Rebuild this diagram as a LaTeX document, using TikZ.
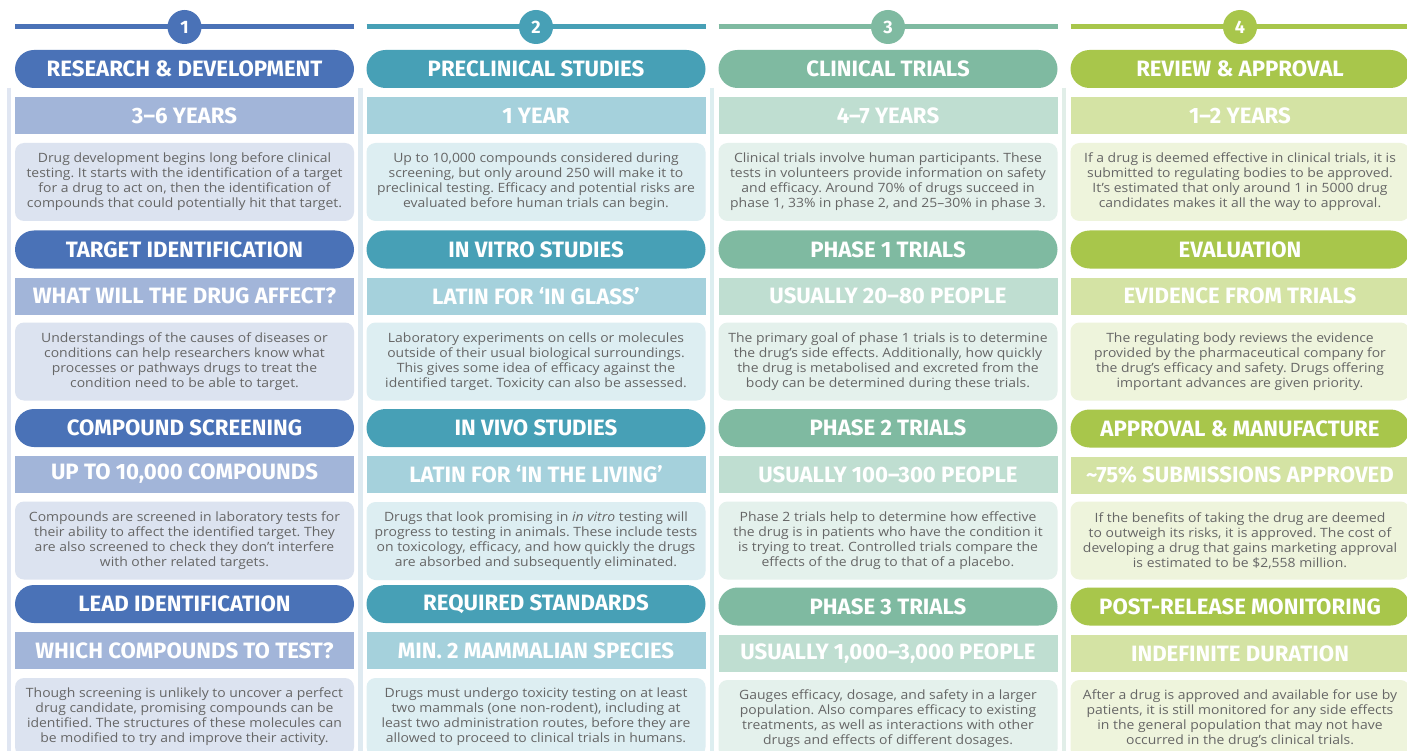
\documentclass[tikz,border=0pt]{standalone}
\usepackage{fontspec}
\setmainfont{Open Sans}[FakeStretch=1.09]
\newfontfamily\headfont{Fira Sans}
\frenchspacing
\definecolor{c1d}{HTML}{4A72B7}
\definecolor{c1s}{HTML}{A2B5D9}
\definecolor{c1b}{HTML}{DCE3F0}
\definecolor{c2d}{HTML}{47A0B6}
\definecolor{c2s}{HTML}{A5D1DC}
\definecolor{c2b}{HTML}{DDEEF2}
\definecolor{c3d}{HTML}{7FBAA1}
\definecolor{c3s}{HTML}{BFDED1}
\definecolor{c3b}{HTML}{E4F1EC}
\definecolor{c4d}{HTML}{A8C64B}
\definecolor{c4s}{HTML}{D4E3A4}
\definecolor{c4b}{HTML}{EEF4DC}
\definecolor{sep1}{HTML}{E0E6F2}
\definecolor{sep2}{HTML}{DFEAF1}
\definecolor{sep3}{HTML}{DDEEF0}
\definecolor{sep4}{HTML}{E1EEE8}
\definecolor{bodygray}{HTML}{666666}
\tikzset{
  headtext/.style={font=\headfont\bfseries\fontsize{22.2}{24}\selectfont, text=white},
  pillbox/.style={headtext, rounded corners=19pt, minimum width=339pt, minimum height=38pt, inner sep=0pt},
  subbox/.style={headtext, minimum width=339pt, minimum height=37pt, inner sep=0pt},
  descbox/.style={rounded corners=9pt, minimum width=339pt, minimum height=78pt, inner sep=0pt, align=center, font=\frenchspacing\fontsize{12.8}{15}\selectfont, text=bodygray},
  numcircle/.style={circle, minimum size=34pt, inner sep=0pt, font=\headfont\bfseries\fontsize{18}{20}\selectfont, text=white},
  topline/.style={line width=5pt},
  sepline/.style={line width=4.5pt}
}
% #1 prefix, #2 x, #3 colour key, #4 pill y, #5 sub y, #6 desc y, #7 pill, #8 sub, #9 desc
\newcommand\stagerow[9]{%
  \node[pillbox, fill=#3d] (#1p) at (#2,#4) {#7};
  \node[subbox, fill=#3s] (#1s) at (#2,#5) {#8};
  \node[descbox, fill=#3b] (#1t) at (#2,#6) {#9};
}
\newcommand\stagehead[3]{% #1 number, #2 x, #3 colour key
  \coordinate (L#1) at (#2-169.5,27);
  \coordinate (R#1) at (#2+169.5,27);
  \draw[topline, #3d] (L#1) -- (R#1);
  \node[numcircle, fill=#3d] (n#1) at (#2,27) {#1};
}
\begin{document}
\begin{tikzpicture}[x=1pt,y=-1pt]
\useasboundingbox (0,0) rectangle (1407,751);
\clip (0,0) rectangle (1407,751);
\fill[white] (0,0) rectangle (1407,751);
% separator lines
\coordinate (s1a) at (9,88);   \coordinate (s1b) at (9,760);
\coordinate (s2a) at (360.5,88); \coordinate (s2b) at (360.5,760);
\coordinate (s3a) at (712,88); \coordinate (s3b) at (712,760);
\coordinate (s4a) at (1064,88); \coordinate (s4b) at (1064,760);
\draw[sepline, sep1] (s1a) -- (s1b);
\draw[sepline, sep2] (s2a) -- (s2b);
\draw[sepline, sep3] (s3a) -- (s3b);
\draw[sepline, sep4] (s4a) -- (s4b);
% column heads
\stagehead{1}{184.5}{c1}
\stagehead{2}{536}{c2}
\stagehead{3}{888}{c3}
\stagehead{4}{1240}{c4}
% column 1
\stagerow{a1}{184.5}{c1}{69}{115.5}{182}{RESEARCH \& DEVELOPMENT}{3–6 YEARS}{Drug development begins long before clinical\\testing. It starts with the identification of a target\\for a drug to act on, then the identification of\\compounds that could potentially hit that target.}
\stagerow{a2}{184.5}{c1}{249.5}{296}{361.5}{TARGET IDENTIFICATION}{WHAT WILL THE DRUG AFFECT?}{Understandings of the causes of diseases or\\conditions can help researchers know what\\processes or pathways drugs to treat the\\condition need to be able to target.}
\stagerow{a3}{184.5}{c1}{428}{474}{540.5}{COMPOUND SCREENING}{UP TO 10,000 COMPOUNDS}{Compounds are screened in laboratory tests for\\their ability to affect the identified target. They\\are also screened to check they don’t interfere\\with other related targets.}
\stagerow{a4}{184.5}{c1}{604}{650.5}{717}{LEAD IDENTIFICATION}{WHICH COMPOUNDS TO TEST?}{Though screening is unlikely to uncover a perfect\\drug candidate, promising compounds can be\\identified. The structures of these molecules can\\be modified to try and improve their activity.}
% column 2
\stagerow{b1}{536}{c2}{69}{115.5}{182}{PRECLINICAL STUDIES}{1 YEAR}{Up to 10,000 compounds considered during\\screening, but only around 250 will make it to\\preclinical testing. Efficacy and potential risks are\\evaluated before human trials can begin.}
\stagerow{b2}{536}{c2}{249.5}{296}{361.5}{IN VITRO STUDIES}{LATIN FOR ‘IN GLASS’}{Laboratory experiments on cells or molecules\\outside of their usual biological surroundings.\\This gives some idea of efficacy against the\\identified target. Toxicity can also be assessed.}
\stagerow{b3}{536}{c2}{428}{474}{541}{IN VIVO STUDIES}{LATIN FOR ‘IN THE LIVING’}{Drugs that look promising in \textit{in vitro} testing will\\progress to testing in animals. These include tests\\on toxicology, efficacy, and how quickly the drugs\\are absorbed and subsequently eliminated.}
\stagerow{b4}{536}{c2}{604}{650.5}{717}{REQUIRED STANDARDS}{MIN. 2 MAMMALIAN SPECIES}{Drugs must undergo toxicity testing on at least\\two mammals (one non-rodent), including at\\least two administration routes, before they are\\allowed to proceed to clinical trials in humans.}
% column 3
\stagerow{c1}{888}{c3}{69}{115.5}{182}{CLINICAL TRIALS}{4–7 YEARS}{Clinical trials involve human participants. These\\tests in volunteers provide information on safety\\and efficacy. Around 70\% of drugs succeed in\\phase 1, 33\% in phase 2, and 25–30\% in phase 3.}
\stagerow{c2}{888}{c3}{249.5}{296}{361.5}{PHASE 1 TRIALS}{USUALLY 20–80 PEOPLE}{The primary goal of phase 1 trials is to determine\\the drug’s side effects. Additionally, how quickly\\the drug is metabolised and excreted from the\\body can be determined during these trials.}
\stagerow{c3}{888}{c3}{428}{474.5}{540.5}{PHASE 2 TRIALS}{USUALLY 100–300 PEOPLE}{Phase 2 trials help to determine how effective\\the drug is in patients who have the condition it\\is trying to treat. Controlled trials compare the\\effects of the drug to that of a placebo.}
\stagerow{c4}{888}{c3}{606.5}{653.5}{719}{PHASE 3 TRIALS}{USUALLY 1,000–3,000 PEOPLE}{Gauges efficacy, dosage, and safety in a larger\\population. Also compares efficacy to existing\\treatments, as well as interactions with other\\drugs and effects of different dosages.}
% column 4
\stagerow{d1}{1240}{c4}{69}{115.5}{182}{REVIEW \& APPROVAL}{1–2 YEARS}{If a drug is deemed effective in clinical trials, it is\\submitted to regulating bodies to be approved.\\It’s estimated that only around 1 in 5000 drug\\candidates makes it all the way to approval.}
\stagerow{d2}{1240}{c4}{249.5}{296}{361.5}{EVALUATION}{EVIDENCE FROM TRIALS}{The regulating body reviews the evidence\\provided by the pharmaceutical company for\\the drug’s efficacy and safety. Drugs offering\\important advances are given priority.}
\stagerow{d3}{1240}{c4}{428.5}{475}{540.5}{APPROVAL \& MANUFACTURE}{\textasciitilde 75\% SUBMISSIONS APPROVED}{If the benefits of taking the drug are deemed\\to outweigh its risks, it is approved. The cost of\\developing a drug that gains marketing approval\\is estimated to be \$2,558 million.}
\stagerow{d4}{1240}{c4}{606.5}{653.5}{719}{POST-RELEASE MONITORING}{INDEFINITE DURATION}{After a drug is approved and available for use by\\patients, it is still monitored for any side effects\\in the general population that may not have\\occurred in the drug’s clinical trials.}
\end{tikzpicture}
\end{document}
